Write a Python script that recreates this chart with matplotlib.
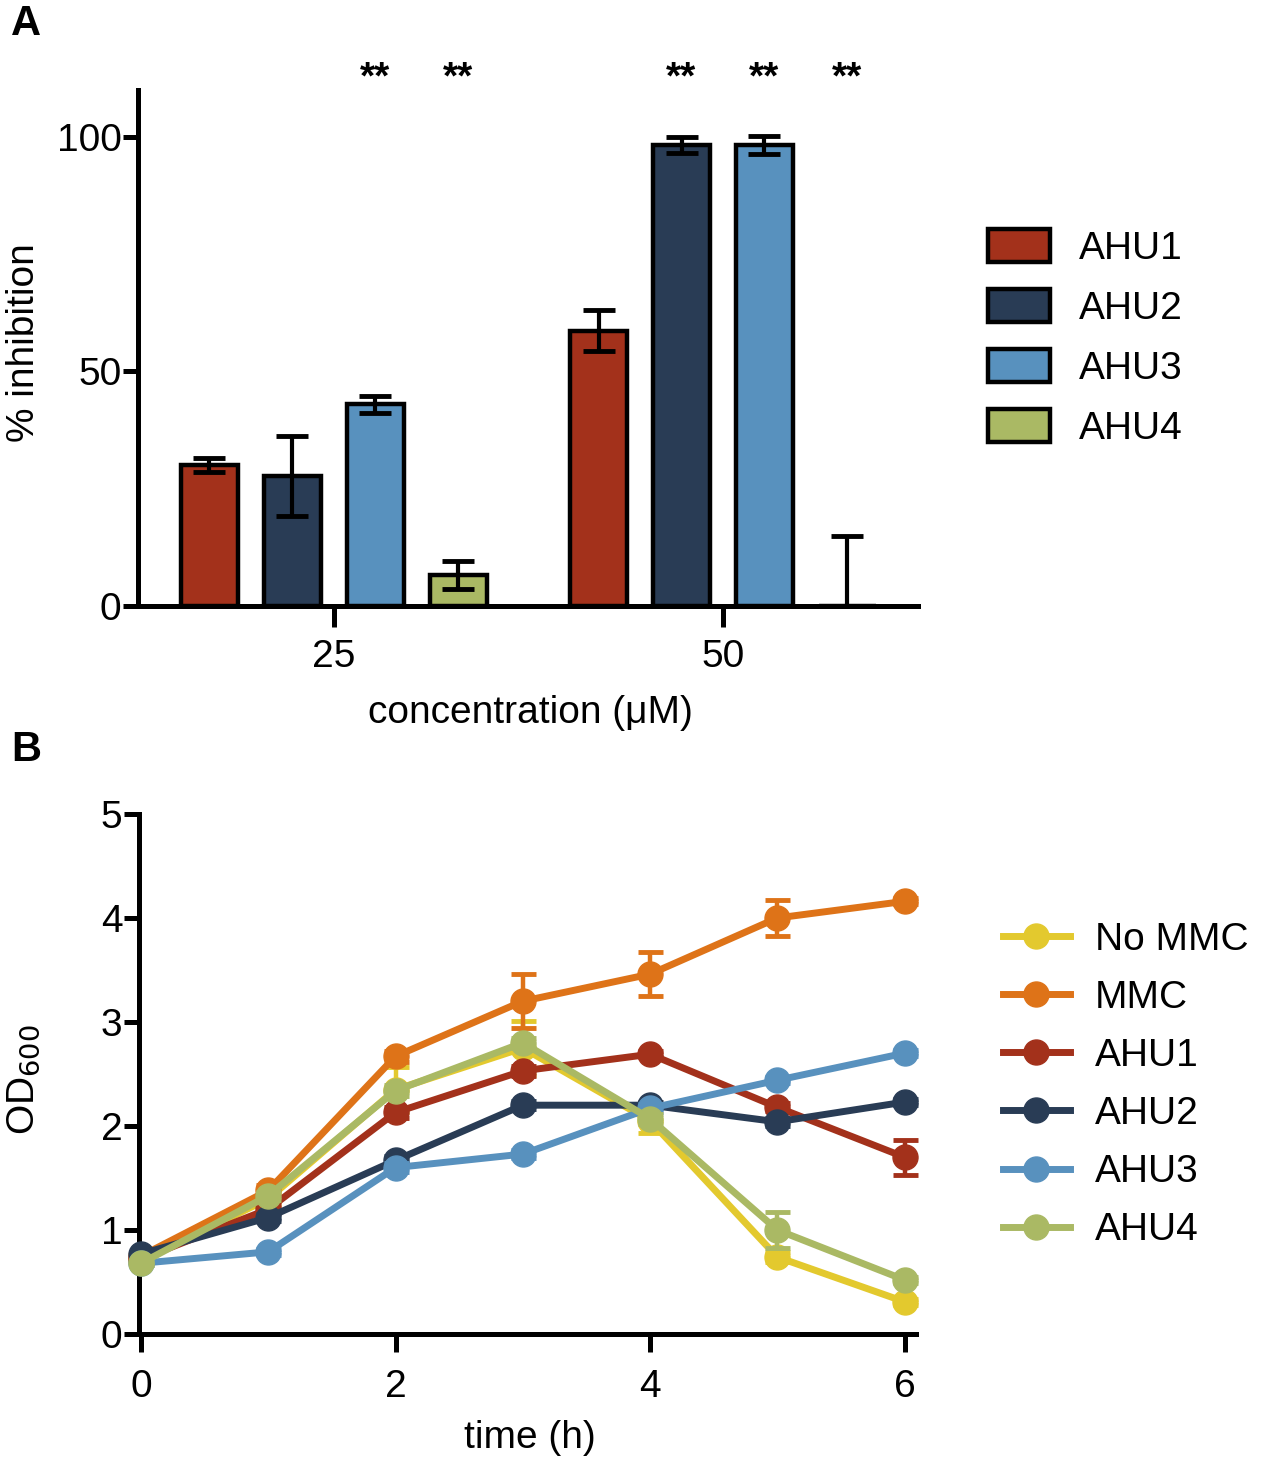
import matplotlib.pyplot as plt
import numpy as np
from matplotlib.patches import Patch
from matplotlib.lines import Line2D

plt.rcParams['font.family'] = ['Liberation Sans', 'DejaVu Sans']

# === Panel A data ===
concentrations = ["25", "50"]
compounds = ["AHU1", "AHU2", "AHU3", "AHU4"]
inhib_25 = [30.0, 27.7, 43.0, 6.6]
inhib_25_err = [1.5, 8.6, 1.8, 3.0]
inhib_50 = [58.7, 98.3, 98.3, 0.0]
inhib_50_err = [4.4, 1.7, 1.9, 15.0]
stars_25 = ["", "", "**", "**"]
stars_50 = ["", "**", "**", "**"]

# === Panel B data ===
time_h = [0, 1, 2, 3, 4, 5, 6]
series_names = ["No MMC", "MMC", "AHU1", "AHU2", "AHU3", "AHU4"]
od_nommc = [0.70, 1.30, 2.35, 2.75, 2.05, 0.74, 0.31]
od_nommc_err = [0.02, 0.05, 0.22, 0.26, 0.12, 0.05, 0.03]
od_mmc = [0.75, 1.38, 2.67, 3.20, 3.46, 4.00, 4.16]
od_mmc_err = [0.02, 0.05, 0.05, 0.26, 0.21, 0.17, 0.03]
od_ahu1 = [0.72, 1.20, 2.13, 2.53, 2.69, 2.18, 1.70]
od_ahu1_err = [0.02, 0.04, 0.05, 0.05, 0.03, 0.04, 0.17]
od_ahu2 = [0.77, 1.12, 1.67, 2.20, 2.20, 2.04, 2.23]
od_ahu2_err = [0.02, 0.03, 0.04, 0.04, 0.03, 0.04, 0.03]
od_ahu3 = [0.68, 0.79, 1.60, 1.73, 2.17, 2.44, 2.70]
od_ahu3_err = [0.02, 0.03, 0.04, 0.04, 0.04, 0.03, 0.03]
od_ahu4 = [0.68, 1.33, 2.34, 2.80, 2.07, 1.00, 0.52]
od_ahu4_err = [0.02, 0.04, 0.05, 0.05, 0.05, 0.17, 0.03]

bar_colors = ["#A3311B", "#293C55", "#5891BE", "#AAB964"]
line_colors = ["#E3C92E", "#DE7318", "#A3311B", "#293C55", "#5891BE", "#AAB964"]

FS = 28

fig = plt.figure(figsize=(12.67, 14.69), dpi=100)

# ---------------- Panel A ----------------
axA = fig.add_axes([0.109, 0.5875, 0.6155, 0.3512])
group_pos = [0.0, 4.69]
offsets = np.array([-1.5, -0.5, 0.5, 1.5])
width = 0.69

for gi, (vals, errs, stars) in enumerate([(inhib_25, inhib_25_err, stars_25),
                                          (inhib_50, inhib_50_err, stars_50)]):
    xs = group_pos[gi] + offsets
    for i in range(len(compounds)):
        axA.bar(xs[i], vals[i], width=width, color=bar_colors[i],
                edgecolor="black", linewidth=3.2, zorder=2)
        lo = min(errs[i], vals[i])
        axA.errorbar(xs[i], vals[i], yerr=[[lo], [errs[i]]], fmt="none",
                     ecolor="black", elinewidth=3, capsize=11.5, capthick=3.5,
                     zorder=3, clip_on=False)
        if stars[i]:
            axA.text(xs[i], 112.5, stars[i], ha="center", va="center",
                     fontsize=28, fontweight="bold", clip_on=False)

axA.set_xlim(-2.36, 7.04)
axA.set_ylim(0, 110)
axA.set_yticks([0, 50, 100])
axA.set_xticks(group_pos)
axA.set_xticklabels(concentrations)
axA.spines["top"].set_visible(False)
axA.spines["right"].set_visible(False)
for s in ["left", "bottom"]:
    axA.spines[s].set_linewidth(3.6)
axA.tick_params(axis="y", width=3.6, length=11, labelsize=FS, pad=1)
axA.tick_params(axis="x", width=3.6, length=15, labelsize=FS, pad=9)
axA.set_ylabel("% inhibition", fontsize=FS)
axA.yaxis.set_label_coords(-0.123, 0.51)
axA.set_xlabel("concentration (\u03bcM)", fontsize=FS)
axA.xaxis.set_label_coords(0.503, -0.172)

handlesA = [Patch(facecolor=c, edgecolor="black", linewidth=3.2) for c in bar_colors]
fig.legend(handlesA, compounds, loc="center left", bbox_to_anchor=(0.780, 0.770),
           frameon=False, fontsize=FS, handlelength=1.6, handleheight=0.93,
           handletextpad=0.72, labelspacing=0.57, borderpad=0, borderaxespad=0)

# ---------------- Panel B ----------------
axB = fig.add_axes([0.1097, 0.0919, 0.6133, 0.354])
all_od = [od_nommc, od_mmc, od_ahu1, od_ahu2, od_ahu3, od_ahu4]
all_err = [od_nommc_err, od_mmc_err, od_ahu1_err, od_ahu2_err, od_ahu3_err, od_ahu4_err]
for k in range(len(series_names)):
    axB.errorbar(time_h, all_od[k], yerr=all_err[k], color=line_colors[k],
                 linewidth=5, marker="o", markersize=18, elinewidth=3.2,
                 capsize=9, capthick=3.5, zorder=3 + k, clip_on=False)

axB.set_xlim(-0.016, 6.09)
axB.set_ylim(0, 5)
axB.set_xticks([0, 2, 4, 6])
axB.set_yticks([0, 1, 2, 3, 4, 5])
axB.spines["top"].set_visible(False)
axB.spines["right"].set_visible(False)
for s in ["left", "bottom"]:
    axB.spines[s].set_linewidth(3.6)
axB.tick_params(axis="y", width=3.6, length=11, labelsize=FS, pad=1)
axB.tick_params(axis="x", width=3.6, length=13, labelsize=FS, pad=12)
axB.set_ylabel("OD$_{600}$", fontsize=FS)
axB.yaxis.set_label_coords(-0.125, 0.49)
axB.set_xlabel("time (h)", fontsize=FS)
axB.xaxis.set_label_coords(0.503, -0.165)

handlesB = [Line2D([0], [0], color=c, linewidth=5, marker="o", markersize=18)
            for c in line_colors]
fig.legend(handlesB, series_names, loc="center left", bbox_to_anchor=(0.7916, 0.2614),
           frameon=False, fontsize=FS, handlelength=1.72, handletextpad=0.64,
           labelspacing=0.57, borderpad=0, borderaxespad=0)

# Panel letters
fig.text(0.009, 0.997, "A", fontsize=30, fontweight="bold", va="top")
fig.text(0.009, 0.503, "B", fontsize=30, fontweight="bold", va="top")

plt.savefig("out.png", dpi=100)
plt.close()
